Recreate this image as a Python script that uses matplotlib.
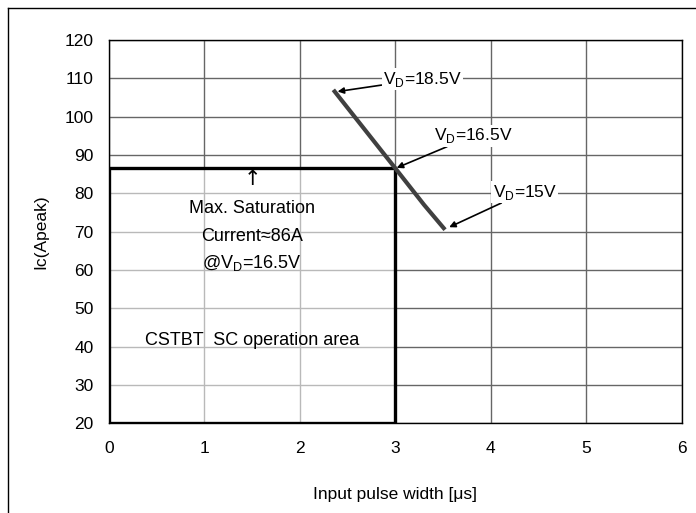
import matplotlib.pyplot as plt
from matplotlib.patches import Rectangle
from matplotlib.lines import Line2D

plt.rcParams['font.family'] = ['Liberation Sans', 'DejaVu Sans']
plt.rcParams['mathtext.fontset'] = 'custom'
plt.rcParams['mathtext.rm'] = 'Liberation Sans'

# short-circuit withstand line (pulse width us, peak current A)
pulse_us = [2.35, 3.0, 3.3, 3.52]
ic_peak = [107.0, 86.5, 77.0, 70.5]

# SOA box
box_width = 3.0
box_ic = 86.5

# annotation labels: text, point on the line, text position
labels = ['V$_{\\rm D}$=18.5V', 'V$_{\\rm D}$=16.5V', 'V$_{\\rm D}$=15V']
label_pts = [(2.38, 106.5), (3.0, 86.5), (3.55, 71.0)]
label_txt = [(2.87, 109.8), (3.4, 95.0), (4.02, 80.3)]

xticks = [0, 1, 2, 3, 4, 5, 6]
yticks = [20, 30, 40, 50, 60, 70, 80, 90, 100, 110, 120]

fig = plt.figure(figsize=(6.96, 5.13), dpi=100)
ax = fig.add_axes([0.1566, 0.175, 0.823, 0.747])

ax.set_xlim(0, 6)
ax.set_ylim(20, 120)
ax.set_xticks(xticks)
ax.set_yticks(yticks)
ax.tick_params(length=0, labelsize=12.5)
ax.tick_params(axis='x', pad=13)
ax.tick_params(axis='y', pad=11)
ax.grid(True, color='#666666', lw=1.0)
ax.set_axisbelow(True)
for s in ax.spines.values():
    s.set_linewidth(1.0)

ax.set_xlabel('Input pulse width [μs]', fontsize=12.5, labelpad=22)
ax.set_ylabel('Ic(Apeak)', fontsize=12.5, labelpad=12)

# box washes out the grid a little
ax.add_patch(Rectangle((0, 20), box_width, box_ic - 20, facecolor='white',
                       alpha=0.55, edgecolor='none', zorder=2))
ax.add_patch(Rectangle((0, 20), box_width, box_ic - 20, facecolor='none',
                       edgecolor='black', lw=2.4, zorder=3))

ax.plot(pulse_us, ic_peak, color='#404040', lw=3, zorder=4, solid_capstyle='butt')

for t, p, tp in zip(labels, label_pts, label_txt):
    ax.annotate(t, xy=p, xytext=tp, fontsize=12.5, va='center', ha='left',
                bbox=dict(facecolor='white', edgecolor='none', pad=1),
                arrowprops=dict(arrowstyle='-|>', color='black', lw=1.2,
                                mutation_scale=9, shrinkA=0, shrinkB=1),
                zorder=5)

ax.text(1.5, 83.8, '↑', ha='center', va='center', fontsize=15, zorder=5,
        family=['DejaVu Sans'])
ax.text(1.5, 76.1, 'Max. Saturation', ha='center', va='center', fontsize=13, zorder=5)
ax.text(1.5, 68.6, 'Current≈86A', ha='center', va='center', fontsize=13, zorder=5)
ax.text(1.5, 61.8, '@V$_{\\rm D}$=16.5V', ha='center', va='center', fontsize=13, zorder=5)
ax.text(1.5, 41.7, 'CSTBT  SC operation area', ha='center', va='center',
        fontsize=13, zorder=5)

# cropped outer frame (top and left edges only)
fig.add_artist(Line2D([8 / 696, 1], [1 - 8 / 513, 1 - 8 / 513], color='black', lw=1))
fig.add_artist(Line2D([8 / 696, 8 / 696], [0, 1 - 8 / 513], color='black', lw=1))

fig.savefig('out.png', dpi=100)
